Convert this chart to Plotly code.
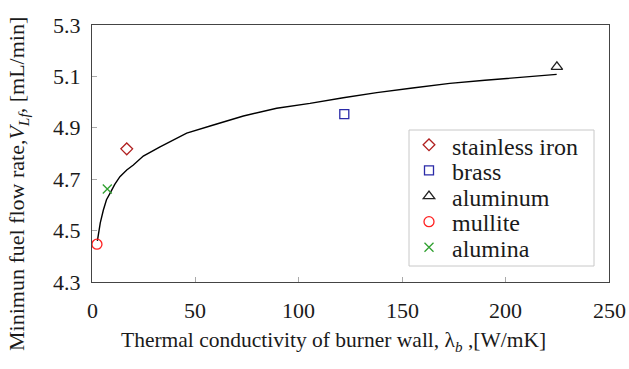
import plotly.graph_objects as go

# Fitted curve
curve_x = [2.6, 4.0, 5.5, 7.0, 8.7, 11, 13.5, 16.8, 20, 24.8, 32.9, 45.8, 58.7, 73.2, 89.3,
           105.4, 121.5, 137.7, 155, 173, 190, 207, 224.7]
curve_y = [4.46, 4.53, 4.58, 4.62, 4.645, 4.68, 4.71, 4.736, 4.755, 4.79, 4.826, 4.879, 4.911,
           4.946, 4.976, 4.995, 5.017, 5.037, 5.055, 5.073, 5.085, 5.095, 5.108]

materials = ["stainless iron", "brass", "aluminum", "mullite", "alumina"]
mat_x = [16.8, 122, 224.8, 2.4, 7.4]
mat_y = [4.818, 4.953, 5.137, 4.447, 4.662]
symbols = ["diamond-open", "square-open", "triangle-up-open", "circle-open", "x-thin-open"]
colors = ["#b02020", "#2a2aa8", "#222222", "#ff2020", "#30a030"]
sizes = [9, 9, 10, 10, 9]

x_ticks = [0, 50, 100, 150, 200, 250]
y_ticks = [4.3, 4.5, 4.7, 4.9, 5.1, 5.3]
x_tick_labels = ["0", "50", "100", "150", "200", "250"]
y_tick_labels = ["4.3", "4.5", "4.7", "4.9", "5.1", "5.3"]

FONT = "Liberation Serif"
FS = 22
TXT = "#1a1a1a"

# plot area in pixels (layout only)
L, R, T, B = 92, 609, 25, 282
W, H = R - L, B - T


def px_x(p):
    return (p - L) / W


def px_y(p):
    return (B - p) / H


fig = go.Figure()
fig.add_trace(go.Scatter(x=curve_x, y=curve_y, mode="lines",
                         line=dict(color="black", width=1.4), showlegend=False))
for name, x, y, s, c, sz in zip(materials, mat_x, mat_y, symbols, colors, sizes):
    fig.add_trace(go.Scatter(x=[x], y=[y], mode="markers", name="",
                             marker=dict(symbol=s, color=c, size=sz,
                                         line=dict(color=c, width=1.3))))

# tick labels (annotations on the axes' scales so they render in the serif face)
for v, t in zip(x_ticks, x_tick_labels):
    fig.add_annotation(text=t, xref="x", x=v, yref="paper", y=px_y(310), xanchor="center",
                       yanchor="middle", showarrow=False, font=dict(family=FONT, size=FS, color=TXT))
for v, t in zip(y_ticks, y_tick_labels):
    fig.add_annotation(text=t, xref="paper", x=px_x(83), yref="y", y=v, xanchor="right",
                       yanchor="middle", showarrow=False, font=dict(family=FONT, size=FS, color=TXT))

# legend texts
for i, name in enumerate(materials):
    fig.add_annotation(text=name, xref="paper", x=px_x(450), yref="paper", y=px_y(146.5 + 25.6 * i),
                       xanchor="left", yanchor="middle", showarrow=False,
                       font=dict(family=FONT, size=24, color=TXT))
fig.add_shape(type="rect", xref="paper", yref="paper", x0=px_x(409), x1=px_x(594),
              y0=px_y(266), y1=px_y(130), line=dict(color="#c8c8c8", width=1))

fig.add_annotation(text="Thermal conductivity of burner wall, λ<sub><i>b</i></sub> ,[W/mK]",
                   xref="paper", yref="paper", x=px_x(333), y=px_y(341), xanchor="center", yanchor="middle",
                   showarrow=False, font=dict(family=FONT, size=21.5, color=TXT))
fig.add_annotation(text="Minimun fuel flow rate,<i>V</i><sub><i>Lf</i></sub>, [mL/min]",
                   xref="paper", yref="paper", x=px_x(18), y=px_y(184), xanchor="center", yanchor="middle",
                   textangle=-90, showarrow=False, font=dict(family=FONT, size=FS, color=TXT))

fig.update_layout(
    width=629, height=369,
    margin=dict(l=L, r=629 - R, t=T, b=369 - B),
    paper_bgcolor="white", plot_bgcolor="white",
    font=dict(family=FONT, size=FS, color=TXT),
    legend=dict(x=px_x(409), y=px_y(127), xanchor="left", yanchor="top",
                bgcolor="rgba(0,0,0,0)", borderwidth=0,
                font=dict(family=FONT, size=17.4, color=TXT), tracegroupgap=0, itemwidth=30),
    xaxis=dict(range=[0, 250], tickvals=x_ticks, showticklabels=False, ticks="inside", ticklen=5,
               tickcolor="#aaaaaa", showline=True, linecolor="#444444", linewidth=1.2,
               mirror=True, showgrid=False, zeroline=False),
    yaxis=dict(range=[4.3, 5.3], tickvals=y_ticks, showticklabels=False, ticks="inside", ticklen=5,
               tickcolor="#aaaaaa", showline=True, linecolor="#444444", linewidth=1.2,
               mirror=True, showgrid=False, zeroline=False),
)

fig.write_html("out.html")
